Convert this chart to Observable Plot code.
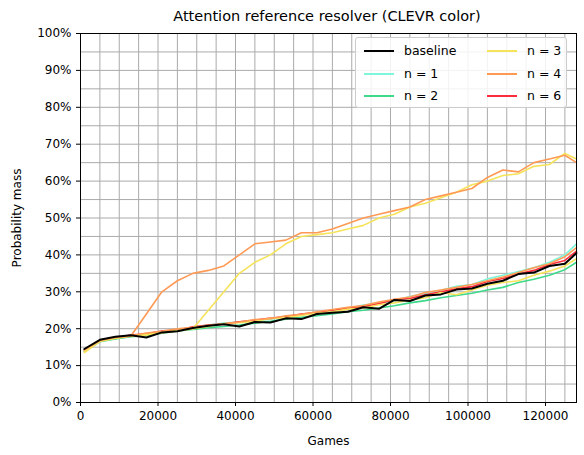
<!DOCTYPE html>
<html><head><meta charset="utf-8">
<script src="https://cdn.jsdelivr.net/npm/d3@7"></script>
<script src="https://cdn.jsdelivr.net/npm/@observablehq/plot@0.6"></script>
<style>
body{margin:0;font-family:"DejaVu Sans",sans-serif;background:#fff}
#wrap{position:relative;width:584px}
#title{height:22px;line-height:32px;text-align:center;font-size:14.5px;padding-left:70px;box-sizing:border-box}
#legend{position:absolute;left:355px;top:37px;width:212px;height:71px;background:rgba(255,255,255,0.85);border:1px solid #ccc;border-radius:3px;font-size:12.5px;box-sizing:border-box}
.it{position:absolute;display:flex;align-items:center}
.sw{width:30px;height:2px;margin-right:10px}
</style></head><body>
<div id="wrap"><div id="title">Attention reference resolver (CLEVR color)</div><div id="chart"></div><div id="legend"></div></div>
<script>
const xs = [1000,5000,9000,13000,17000,21000,25000,29000,33000,37000,41000,45000,49000,53000,57000,61000,65000,69000,73000,77000,81000,85000,89000,93000,97000,101000,105000,109000,113000,117000,121000,125000,128000];
const baseline = [14.5,17,17.8,18.2,17.6,19,19.3,20.2,20.8,21.2,20.6,21.8,21.7,22.8,22.6,24,24.3,24.6,25.8,25.4,27.8,27.5,29,29.3,30.6,30.9,32.2,33,34.8,35.2,37,37.6,40.5];
const n1 = [14,16.8,17.5,18,18.5,19.2,19.8,20.3,21,21.5,21.8,22.2,22.6,23.3,23.8,24.5,24.8,25.5,26.4,26.9,27.6,28.7,29.6,30.4,31.5,32,33.5,34.5,35.5,36.5,38,40,43];
const n2 = [13.8,16.5,17.2,17.8,18.2,18.8,19.4,19.8,20.3,20.6,21,21.5,22,22.6,23.1,23.5,24,24.6,25,25.6,26.2,27,27.6,28.4,29,29.6,30.5,31.2,32.5,33.4,34.5,36,38];
const n6 = [14.2,16.9,17.6,18.3,18.6,19.4,19.6,20.5,21,21.3,21.9,22.3,22.9,23.2,24,24.4,25,25.5,26,26.8,27.9,28.2,29.2,30,30.8,31.4,32.8,33.6,34.8,35.8,37.4,38.5,41];
const n3low = [13.5,16.6,17.4,18,18.4,19,19.5,20,20.6,21.4,21.6,22,22.8,23,23.6,24.2,24.6,25.3,25.6,26.5,27,27.8,28.4,29.8,29.2,30.5,31.8,32.5,33,34.5,35.6,37,39];
const n4low = [14,16.7,17.7,18.1,18.8,19.3,20,20.4,20.9,21.2,21.8,22.5,22.7,23.5,23.9,24.6,25.2,25.8,26.3,27.2,28,28.6,29.8,30.5,31.2,32,33,34,35.2,36.5,37.6,39.5,42];
const n3up = [14,16.6,17.4,18,18.3,18.9,19.4,20,25,30,35,38,40,43,45,45.5,46,47,48,50,51,53,54,55.5,57,59,60,61.5,62,64,64.5,67.5,66];
const n4up = [14.3,16.8,17.6,18,24,30,33,35,35.8,37,40,43,43.5,44,46,46,47,48.5,50,51,52,53,55,56,57,58,61,63,62.5,65,66,67,65];
const pct = d3.range(0,101,10);
const xt = d3.range(0,121000,20000);
const colors = {baseline:"#000000", n1:"#7ff5d9", n2:"#3ed98a", n3:"#f5e35a", n4:"#ff9a55", n6:"#ff2a3a"};
const series = [["n2",n2],["n1",n1],["n6",n6],["n3",n3low],["n4",n4low],["n3",n3up],["n4",n4up]];
const rows = [];
series.forEach(([k,a],si)=>a.forEach((v,i)=>rows.push({s:si,k,x:xs[i],y:v})));
const brow = baseline.map((v,i)=>({x:xs[i],y:v}));
const plot = Plot.plot({
  width:584, height:433, marginLeft:80, marginRight:8, marginTop:11, marginBottom:53,
  style:{fontFamily:"DejaVu Sans",fontSize:"12px",color:"#000"},
  x:{domain:[0,128000], ticks:xt, tickFormat:d=>String(d), label:"Games", labelAnchor:"center", labelArrow:"none", labelOffset:42, tickSize:4},
  y:{domain:[0,100], ticks:pct, tickFormat:d=>d+"%", label:"Probability mass", labelAnchor:"center", labelArrow:"none", labelOffset:68, tickSize:4},
  marks:[
    Plot.gridX(d3.range(0,128001,5000),{stroke:"#aaa",strokeOpacity:1}),
    Plot.gridY(d3.range(0,101,5),{stroke:"#aaa",strokeOpacity:1}),
    Plot.line(rows,{x:"x",y:"y",z:"s",stroke:d=>colors[d.k],strokeWidth:1.6}),
    Plot.line(brow,{x:"x",y:"y",stroke:"#000",strokeWidth:2}),
    Plot.frame({stroke:"#000"})
  ]
});
document.getElementById("chart").appendChild(plot);
const leg=[["baseline","baseline",12,5],["n1","n = 1",12,28],["n2","n = 2",12,50],["n3","n = 3",135,5],["n4","n = 4",135,28],["n6","n = 6",135,50]];
const L=document.getElementById("legend");
leg.forEach(([k,t,x,y])=>{const d=document.createElement("div");d.className="it";d.style.left=(x-4)+"px";d.style.top=y+"px";d.innerHTML=`<span class="sw" style="background:${colors[k]}"></span>${t}`;L.appendChild(d);});
</script></body></html>
